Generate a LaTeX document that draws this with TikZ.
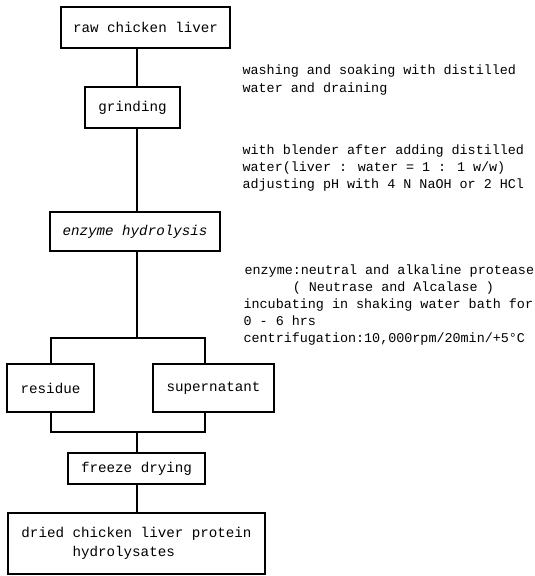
\documentclass[tikz,border=0pt]{standalone}
\usepackage{fontspec}
\newfontfamily\monofam{Liberation Mono}
\newcommand\boxfont{\monofam\fontsize{14.2}{19}\selectfont}
\newcommand\notefont{\monofam\fontsize{13.4}{18}\selectfont}
\begin{document}
\begin{tikzpicture}[x=1pt,y=-1pt,line width=1.2pt,
  box/.style={draw,inner sep=0pt,font=\boxfont},
  note/.style={anchor=base west,inner sep=0pt,font=\notefont}]
\useasboundingbox (0,0) rectangle (535,576);
\node[box,minimum width=169pt,minimum height=41pt] (raw) at (145.5,27.5) {raw chicken liver};
\node[box,minimum width=95pt,minimum height=41pt] (grind) at (132.5,107.5) {grinding};
\node[box,minimum width=170pt,minimum height=39pt] (enz) at (135,231.5) {\itshape enzyme hydrolysis};
\node[box,minimum width=87pt,minimum height=48pt] (res) at (50.5,388) {residue};
\node[box,minimum width=121pt,minimum height=48pt] (sup) at (213.5,388) {supernatant};
\node[box,minimum width=137pt,minimum height=31pt] (fd) at (136.5,468.5) {freeze drying};
\node[box,minimum width=257pt,minimum height=61pt,align=left] (dried) at (136.5,543.5) {dried chicken liver protein\\\phantom{dried }hydrolysates};
\coordinate (sp) at (137,0);
\coordinate (cl) at (51,0);
\coordinate (cr) at (205,0);
\coordinate (barT) at (137,338);
\coordinate (barB) at (137,432);
\draw (raw.south -| sp) -- (grind.north -| sp);
\draw (grind.south -| sp) -- (enz.north -| sp);
\draw (enz.south -| sp) -- (barT);
\draw (res.north -| cl) |- (barT) -| (sup.north -| cr);
\draw (res.south -| cl) |- (barB) -| (sup.south -| cr);
\draw (barB) -- (fd.north -| sp);
\draw (fd.south -| sp) -- (dried.north -| sp);
\node[note] (n1) at (242,74) {washing and soaking with distilled};
\node[note] (n2) at (242,92) {water and draining};
\node[note] (n3) at (242,154) {with blender after adding distilled};
\node[note] (n4) at (242,171) {water(liver : water = 1 : 1 w/w)};
\node[note] (n5) at (242,188) {adjusting pH with 4 N NaOH or 2 HCl};
\node[note] (n6) at (244,274) {enzyme:neutral and alkaline protease};
\node[note] (n7) at (244,291) {\phantom{enzyme}( Neutrase and Alcalase )};
\node[note] (n8) at (243,308) {incubating in shaking water bath for};
\node[note] (n9) at (243,325) {0 - 6 hrs};
\node[note] (n10) at (243,342) {centrifugation:10,000rpm/20min/+5°C};
\end{tikzpicture}
\end{document}
